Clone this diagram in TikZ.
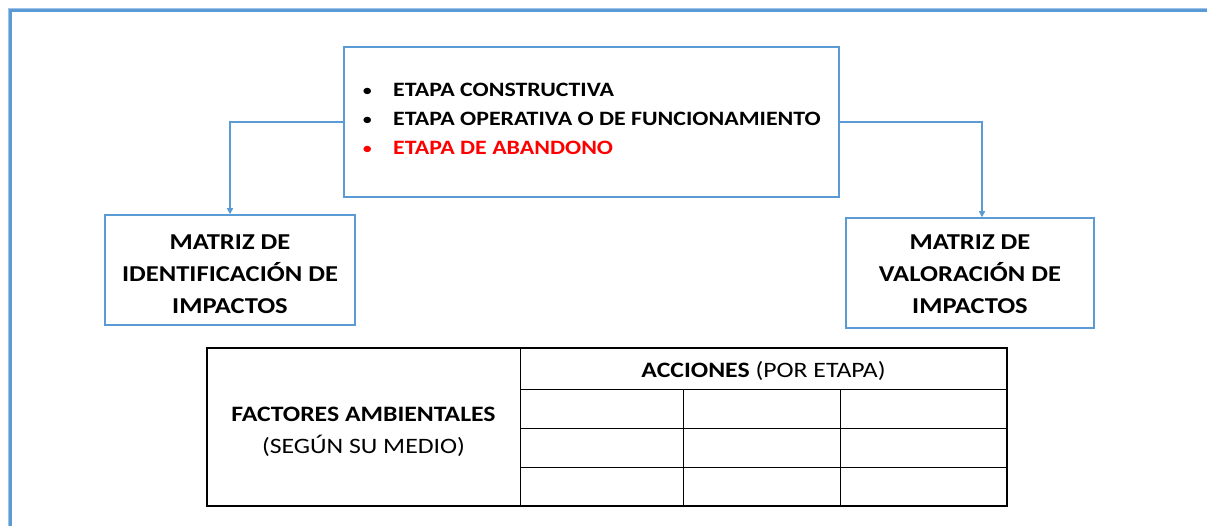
\documentclass[tikz,border=0pt]{standalone}
\usepackage{fontspec}
\setmainfont{Carlito}[FakeStretch=1.17]
\usetikzlibrary{arrows.meta,positioning,calc}
\definecolor{accent}{HTML}{5B9BD5}
\definecolor{accentlight}{HTML}{9DC3E6}
\begin{document}
\begin{tikzpicture}[x=1pt,y=-1pt,
  blbox/.style={draw=accent,line width=1.5pt,rectangle,inner sep=0pt,align=center},
  conn/.style={draw=accent,line width=1.2pt,-{Triangle[width=6pt,length=6pt]}},
  boxtext/.style={font=\fontsize{22.7}{32}\selectfont\bfseries,align=center},
  stagetext/.style={font=\fontsize{20.4}{23}\selectfont\bfseries,anchor=base west,inner sep=0pt},
  bullettext/.style={font=\fontsize{18}{20}\selectfont,anchor=base west,inner sep=0pt},
  tabtext/.style={font=\fontsize{22}{31.5}\selectfont,align=center},
  grid/.style={draw=black,line width=1pt}]
\useasboundingbox (0,0) rectangle (1207,526);
% outer frame
\draw[accentlight,line width=1.2pt] (8.6,526) -- (8.6,8.6) -- (1207,8.6);
\draw[accent,line width=3.5pt] (10.5,526) -- (10.5,10.5) -- (1207,10.5);
% central box
\node[blbox,minimum width=495pt,minimum height=150pt] (stages) at (591.5,122) {};
\node[bullettext] (b1) at (362,97) {•};
\node[stagetext] (s1) at (393,97) {ETAPA CONSTRUCTIVA};
\node[bullettext] (b2) at (362,126) {•};
\node[stagetext] (s2) at (393,126) {ETAPA OPERATIVA O DE FUNCIONAMIENTO};
\node[bullettext,text=red] (b3) at (362,154.5) {•};
\node[stagetext,text=red] (s3) at (393,154.5) {ETAPA DE ABANDONO};
% side boxes
\node[blbox,minimum width=250pt,minimum height=110pt] (ident) at (230,270) {};
\node[boxtext] (identtext) at (230,274) {MATRIZ DE\\IDENTIFICACIÓN DE\\IMPACTOS};
\node[blbox,minimum width=248pt,minimum height=110pt] (valor) at (970,273) {};
\node[boxtext] (valortext) at (970,274) {MATRIZ DE\\VALORACIÓN DE\\IMPACTOS};
% connectors
\draw[conn] (stages.west) -| (ident.north);
\draw[conn] (stages.east) -| ([xshift=12pt]valor.north);
% table
\draw[grid,line width=1.3pt] (207,348) rectangle (1007,506);
\draw[grid] (520,348) -- (520,506);
\draw[grid] (520,389.5) -- (1007,389.5);
\draw[grid] (520,428.5) -- (1007,428.5);
\draw[grid] (520,467.5) -- (1007,467.5);
\draw[grid] (683,389.5) -- (683,506);
\draw[grid] (840,389.5) -- (840,506);
\node[tabtext] (factores) at (363.5,432) {\textbf{FACTORES AMBIENTALES}\\(SEGÚN SU MEDIO)};
\node[tabtext] (acciones) at (763.5,371) {\textbf{ACCIONES} (POR ETAPA)};
\end{tikzpicture}
\end{document}
